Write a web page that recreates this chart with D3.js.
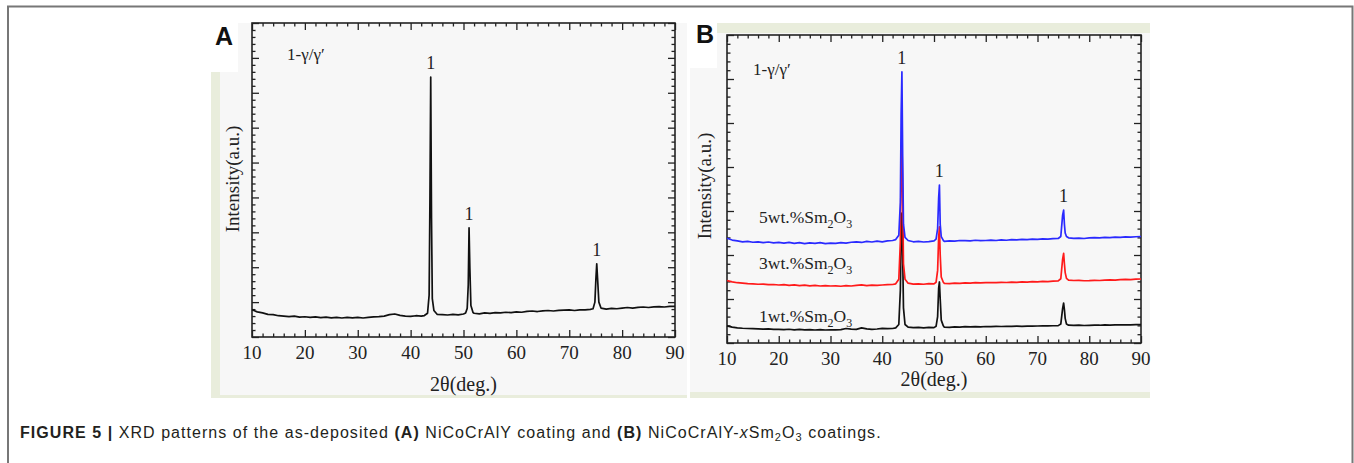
<!DOCTYPE html>
<html>
<head>
<meta charset="UTF-8">
<title>XRD patterns</title>
<script src="https://d3js.org/d3.v7.min.js"></script>
<style>
  body { margin: 0; background: #fff; }
  svg { display: block; }
  .serif { font-family: "Liberation Serif", "Times New Roman", serif; fill: #222; }
  .caption { font-family: "Liberation Sans", Arial, sans-serif; font-size: 16px; fill: #231f20; letter-spacing: 1.05px; }
</style>
</head>
<body>
<svg id="chart" width="1354" height="463"></svg>
<script>
// 2θ grid shared by all patterns (denser around the three γ/γ′ reflections)
const twoTheta = [
  10,11,12,13,14,15,16,17,18,19,20,21,22,23,24,25,26,27,28,29,30,31,32,33,34,35,36,37,38,39,40,41,42,
  42.6,43.2,43.5,43.65,43.8,43.95,44.1,44.4,45,
  46,47,48,49,50,
  50.4,50.7,50.9,51.05,51.2,51.4,51.8,
  52,53,54,55,56,57,58,59,60,61,62,63,64,65,66,67,68,69,70,71,72,73,74,
  74.5,74.85,75.05,75.2,75.35,75.6,76,
  77,78,79,80,81,82,83,84,85,86,87,88,89,90
];

// panel A: NiCoCrAlY coating
const intensityA = [
  780,720,690,650,640,610,600,585,600,570,580,560,575,555,570,550,565,545,560,550,565,545,560,575,585,600,640,660,620,600,590,610,600,
  615,680,1200,3900,7450,3400,1100,760,650,
  640,630,650,635,660,
  690,820,1500,3130,2000,900,700,
  680,665,690,675,700,690,710,700,720,710,735,745,730,750,760,745,765,770,775,760,780,775,790,
  810,1000,1700,2100,1700,1000,830,
  800,820,810,830,845,830,850,860,845,865,870,860,880,875
];

// panel B: NiCoCrAlY-xSm2O3 coatings
const intensity1wt = [
  390,360,345,335,330,325,320,315,320,310,311,305,312,300,308,298,305,296,302,295,298,300,305,330,315,310,345,320,310,318,334,325,330,
  345,420,1200,2500,2955,2000,800,420,360,
  350,355,345,357,350,
  380,600,1250,1387,1000,520,390,
  360,355,365,360,370,365,370,368,375,372,378,375,380,378,382,380,385,383,386,390,388,392,395,
  430,780,909,760,560,430,405,
  400,405,398,402,408,404,410,407,412,410,414,412,416,416
];
const intensity3wt = [
  1420,1390,1370,1360,1350,1345,1335,1340,1325,1330,1318,1325,1310,1320,1305,1315,1300,1310,1295,1305,1296,1300,1290,1305,1295,1310,1320,1305,1315,1310,1318,1325,1330,
  1345,1450,2300,4000,4728,3300,1800,1450,1360,
  1340,1345,1335,1350,1345,
  1380,1650,2400,2637,2000,1500,1380,
  1355,1350,1360,1355,1365,1360,1370,1365,1371,1375,1370,1380,1375,1385,1380,1390,1385,1393,1390,1400,1395,1405,1410,
  1460,1900,2039,1800,1600,1470,1430,
  1420,1425,1415,1416,1425,1420,1430,1435,1430,1440,1445,1440,1450,1455
];
const intensity5wt = [
  2380,2340,2320,2300,2310,2290,2300,2280,2295,2275,2285,2270,2285,2265,2280,2260,2275,2265,2280,2260,2270,2265,2280,2270,2290,2300,2285,2310,2295,2315,2300,2320,2330,
  2350,2450,3200,5200,6160,4200,2700,2400,2330,
  2300,2310,2295,2305,2320,
  2360,2600,3300,3591,2700,2420,2330,
  2310,2320,2315,2330,2325,2320,2335,2325,2330,2340,2330,2345,2335,2350,2345,2355,2350,2360,2355,2365,2360,2370,2375,
  2420,2900,3020,2700,2500,2420,2390,
  2380,2385,2375,2390,2395,2390,2400,2395,2405,2400,2410,2405,2415,2420
];

const xTicks = [10, 20, 30, 40, 50, 60, 70, 80, 90];
const peakPositions = [43.8, 51.05, 75.2];
const sampleLabels = ["1", "3", "5"];

const svg = d3.select("#chart");

// image backgrounds of the two panels
const bg = svg.append("g");
bg.append("rect").attr("x", 238).attr("y", 23).attr("width", 449).attr("height", 375).attr("fill", "#f7f7f7");
bg.append("rect").attr("x", 211).attr("y", 72).attr("width", 30).attr("height", 326).attr("fill", "#f7f7f7");
bg.append("rect").attr("x", 211).attr("y", 72).attr("width", 9).attr("height", 326).attr("fill", "#e9eddc");
bg.append("rect").attr("x", 211).attr("y", 395).attr("width", 476).attr("height", 3).attr("fill", "#e9eddc");
bg.append("rect").attr("x", 690).attr("y", 23).attr("width", 460).attr("height", 375).attr("fill", "#f7f7f7");
bg.append("rect").attr("x", 690).attr("y", 0).attr("width", 27).attr("height", 68).attr("fill", "#fff");
bg.append("rect").attr("x", 717).attr("y", 23).attr("width", 433).attr("height", 10).attr("fill", "#e9eddc");
bg.append("rect").attr("x", 690).attr("y", 392).attr("width", 460).attr("height", 6).attr("fill", "#e9eddc");

// outer figure frame
svg.append("path").attr("d", "M8,470 L8,6.5 L1352.5,6.5 L1352.5,470")
  .attr("fill", "none").attr("stroke", "#777").attr("stroke-width", 2);

function drawPanel(p) {
  const g = svg.append("g");
  const x = d3.scaleLinear().domain([10, 90]).range([p.left, p.right]);
  const y = d3.scaleLinear().domain([0, p.yMax]).range([p.bottom, p.top]);
  const minorX = d3.range(10, 90.1, 2).filter(v => v % 10 !== 0);
  const majorY = d3.range(0, p.yMax + 1, 1000);
  const minorY = d3.range(0, p.yMax + 1, 200).filter(v => v % 1000 !== 0);

  const axes = [
    [d3.axisBottom(x).tickValues(xTicks), `translate(0,${p.bottom})`],
    [d3.axisBottom(x).tickValues(minorX), `translate(0,${p.bottom})`, true],
    [d3.axisTop(x).tickValues(xTicks), `translate(0,${p.top})`],
    [d3.axisTop(x).tickValues(minorX), `translate(0,${p.top})`, true],
    [d3.axisLeft(y).tickValues(majorY), `translate(${p.left},0)`],
    [d3.axisLeft(y).tickValues(minorY), `translate(${p.left},0)`, true],
    [d3.axisRight(y).tickValues(majorY), `translate(${p.right},0)`],
    [d3.axisRight(y).tickValues(minorY), `translate(${p.right},0)`, true]
  ];
  axes.forEach(([ax, tr, minor]) => {
    ax.tickSizeInner(minor ? -3.5 : -7).tickSizeOuter(0).tickFormat("");
    const a = g.append("g").attr("transform", tr).call(ax);
    a.selectAll("line").attr("stroke", "#222").attr("stroke-width", 1.3);
    a.select(".domain").remove();
  });

  g.append("g").selectAll("text").data(xTicks).join("text")
    .attr("class", "serif").attr("x", d => x(d)).attr("y", p.bottom + 22)
    .attr("text-anchor", "middle").style("font-size", "19px").text(d => d);

  g.append("rect").attr("x", p.left).attr("y", p.top)
    .attr("width", p.right - p.left).attr("height", p.bottom - p.top)
    .attr("fill", "none").attr("stroke", "#222").attr("stroke-width", 1.6);

  const line = d3.line().x((d, i) => x(twoTheta[i])).y(d => y(d));
  p.series.forEach(s => {
    g.append("path").datum(s.values).attr("d", line)
      .attr("fill", "none").attr("stroke", s.color).attr("stroke-width", 1.7)
      .attr("stroke-linejoin", "round");
  });

  g.append("text").attr("class", "serif")
    .attr("x", (p.left + p.right) / 2 + p.xTitleDx).attr("y", p.bottom + p.xTitleDy)
    .attr("text-anchor", "middle").style("font-size", "20px").text("2θ(deg.)");
  g.append("text").attr("class", "serif")
    .attr("transform", `translate(${p.yTitleX},${p.yTitleY}) rotate(-90)`)
    .attr("text-anchor", "middle").style("font-size", "19px").text("Intensity(a.u.)");

  g.append("text").attr("class", "serif").attr("x", p.phaseX).attr("y", p.phaseY)
    .style("font-size", "17px").text("1-γ/γ′");

  g.append("g").selectAll("text").data(p.peaks).join("text")
    .attr("class", "serif").attr("x", d => x(d.pos)).attr("y", d => y(d.top) - 8)
    .attr("text-anchor", "middle").style("font-size", "18px").text("1");

  g.append("text").attr("x", p.letterX).attr("y", p.letterY)
    .style("font-family", "'Liberation Sans', Arial, sans-serif").style("font-weight", "bold")
    .style("font-size", "25px").attr("fill", "#111").text(p.letter);
  return { g, x, y };
}

drawPanel({
  letter: "A", letterX: 215, letterY: 45,
  left: 252, right: 675, top: 23, bottom: 337, yMax: 9000,
  xTitleDx: 0, xTitleDy: 54, yTitleX: 239, yTitleY: 179,
  phaseX: 287, phaseY: 60,
  series: [{ values: intensityA, color: "#111" }],
  peaks: [
    { pos: peakPositions[0], top: d3.max(intensityA) },
    { pos: peakPositions[1], top: 3130 },
    { pos: peakPositions[2], top: 2100 }
  ]
});

const pb = drawPanel({
  letter: "B", letterX: 696, letterY: 43,
  left: 727, right: 1141, top: 35, bottom: 343, yMax: 7000,
  xTitleDx: 0, xTitleDy: 43, yTitleX: 711, yTitleY: 186,
  phaseX: 753, phaseY: 75,
  series: [
    { values: intensity1wt, color: "#111" },
    { values: intensity3wt, color: "#ff1a1a" },
    { values: intensity5wt, color: "#2a2aff" }
  ],
  peaks: [
    { pos: 43.75, top: d3.max(intensity5wt) },
    { pos: 51.0, top: 3591 },
    { pos: 75.0, top: 3020 }
  ]
});

// sample labels above each baseline in panel B
const sampleY = [4.8, 16.8, 27.3];
sampleLabels.forEach((s, i) => {
  const t = pb.g.append("text").attr("class", "serif")
    .attr("x", 759).attr("y", pb.y(sampleY[i] * 100)).style("font-size", "17.5px");
  t.append("tspan").text(`${s}wt.%Sm`);
  t.append("tspan").attr("dy", 5).style("font-size", "12px").text("2");
  t.append("tspan").attr("dy", -5).text("O");
  t.append("tspan").attr("dy", 5).style("font-size", "12px").text("3");
});

// figure caption
const cap = svg.append("text").attr("class", "caption").attr("x", 20).attr("y", 438);
cap.append("tspan").style("font-weight", "bold").text("FIGURE 5 | ");
cap.append("tspan").text("XRD patterns of the as-deposited ");
cap.append("tspan").style("font-weight", "bold").text("(A)");
cap.append("tspan").text(" NiCoCrAlY coating and ");
cap.append("tspan").style("font-weight", "bold").text("(B)");
cap.append("tspan").text(" NiCoCrAlY-");
cap.append("tspan").style("font-style", "italic").text("x");
cap.append("tspan").text("Sm");
cap.append("tspan").attr("dy", 3).style("font-size", "11px").text("2");
cap.append("tspan").attr("dy", -3).text("O");
cap.append("tspan").attr("dy", 3).style("font-size", "11px").text("3");
cap.append("tspan").attr("dy", -3).text(" coatings.");
</script>
</body>
</html>
